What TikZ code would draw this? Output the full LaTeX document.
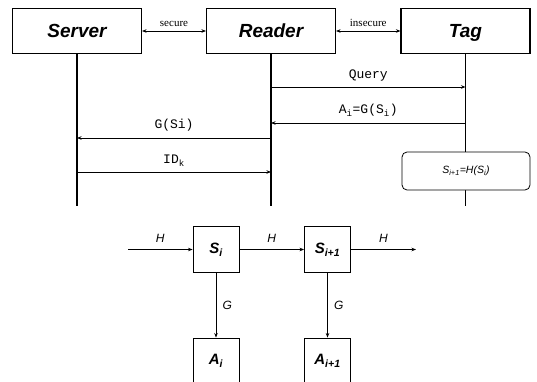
\documentclass[tikz,border=0pt]{standalone}
\usepackage{fontspec}
\setmainfont{Liberation Serif}
\setsansfont{Liberation Sans}
\setmonofont{Liberation Mono}
\usepackage{tikz}
\usetikzlibrary{arrows.meta,positioning}

\begin{document}
\begin{tikzpicture}[x=1pt, y=-1pt, >={Stealth[length=4.5pt,width=3.5pt]},
    party/.style={draw, line width=1.1pt, minimum width=129pt, minimum height=45pt,
      text height=16pt, text depth=2pt,
      font=\fontsize{19}{22}\selectfont\sffamily\bfseries\itshape},
    lifeline/.style={line width=1.6pt},
    msg/.style={->, line width=0.8pt},
    msgtext/.style={above=2pt, font=\fontsize{13}{15}\selectfont\ttfamily},
    chan/.style={<->, line width=0.7pt},
    chantext/.style={above=1pt, font=\fontsize{11}{13}\selectfont\rmfamily},
    statebox/.style={draw, line width=0.9pt, minimum width=46pt, minimum height=46pt,
      font=\fontsize{15}{17}\selectfont\sffamily\bfseries\itshape},
    flow/.style={->, line width=0.7pt},
    flowtext/.style={font=\fontsize{12}{14}\selectfont\sffamily\itshape}]
  \useasboundingbox (0,0) rectangle (537,382);

  % --- Protocol: parties ---
  \node[party] (server) at (77,31) {Server};
  \node[party] (reader) at (271,31) {Reader};
  \node[party] (tag) at (465.5,31) {Tag};

  % channels between parties
  \draw[chan] (server) -- node[chantext] {secure} (reader);
  \draw[chan] (reader) -- node[chantext] {insecure} (tag);

  % lifelines
  \coordinate (server-end) at (77,206);
  \coordinate (reader-end) at (271,206);
  \coordinate (tag-end) at (465.5,206);
  \draw[lifeline] (server) -- (server-end);
  \draw[lifeline] (reader) -- (reader-end);
  \draw[lifeline] (tag) -- (tag-end);

  % messages
  \draw[msg] (reader |- 0,87) -- node[msgtext] {Query} (tag |- 0,87);
  \draw[msg] (tag |- 0,123) -- node[msgtext, above=3pt] {A\textsubscript{i}=G(S\textsubscript{i})} (reader |- 0,123);
  \draw[msg] (reader |- 0,138) -- node[msgtext, above=3pt] {G(Si)} (server |- 0,138);
  \draw[msg] (server |- 0,172) -- node[msgtext] {ID\textsubscript{k}} (reader |- 0,172);

  % tag update
  \node[draw, fill=white, rounded corners=5pt, line width=0.8pt, minimum width=128pt,
    minimum height=38pt, font=\fontsize{10.5}{12}\selectfont\sffamily\itshape]
    (update) at (466,171) {S\textsubscript{i+1}=H(S\textsubscript{i})};

  % --- Hash chain ---
  \node[statebox] (s0) at (216,249.5) {S\textsubscript{i}};
  \node[statebox] (s1) at (327.5,249.5) {S\textsubscript{i+1}};
  \node[statebox] (a0) at (216,361) {A\textsubscript{i}};
  \node[statebox] (a1) at (327.5,361) {A\textsubscript{i+1}};

  \coordinate (hin) at (128,249.5);
  \coordinate (hout) at (416,249.5);
  \draw[flow] (hin) -- node[flowtext, above=3pt] {H} (s0);
  \draw[flow] (s0) -- node[flowtext, above=3pt] {H} (s1);
  \draw[flow] (s1) -- node[flowtext, above=3pt] {H} (hout);
  \draw[flow] (s0) -- node[flowtext, right=3pt] {G} (a0);
  \draw[flow] (s1) -- node[flowtext, right=3pt] {G} (a1);
\end{tikzpicture}
\end{document}
